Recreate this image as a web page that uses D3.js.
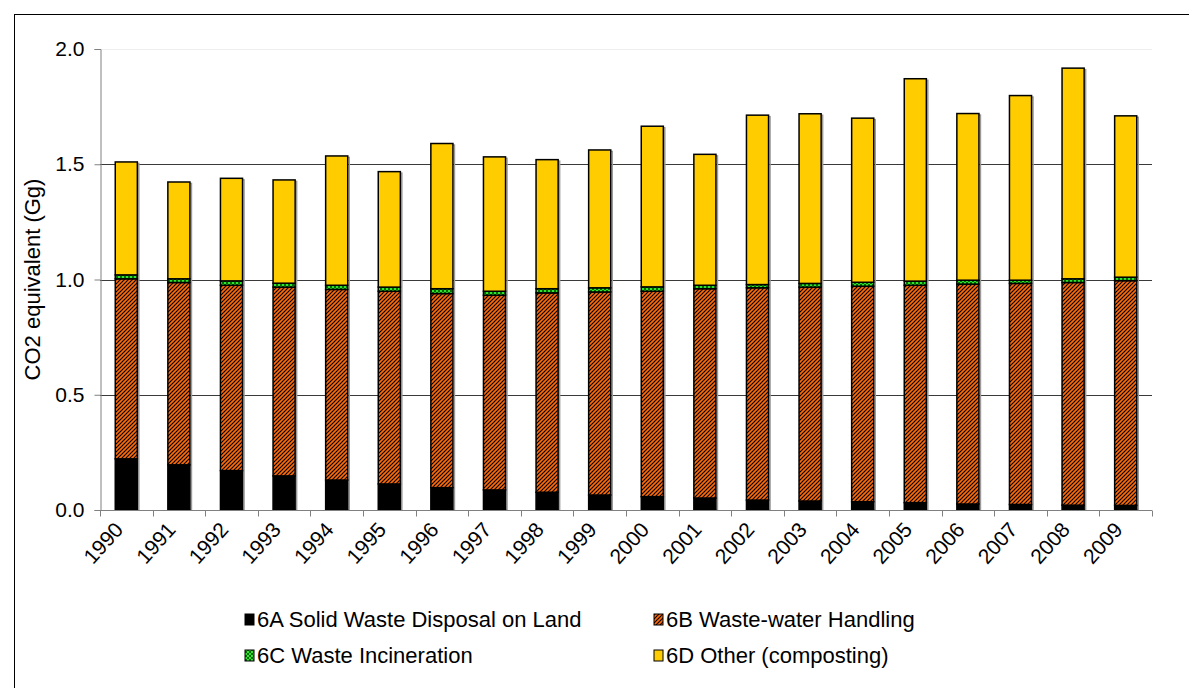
<!DOCTYPE html>
<html>
<head>
<meta charset="utf-8">
<script src="https://cdn.jsdelivr.net/npm/d3@7"></script>
<style>
  body{margin:0;background:#fff;}
  .chart text{font-family:"Liberation Sans",Arial,sans-serif;fill:#000;}
</style>
</head>
<body>
<div class="chart"></div>
<script>
var years=["1990","1991","1992","1993","1994","1995","1996","1997","1998","1999",
  "2000","2001","2002","2003","2004","2005","2006","2007","2008","2009"];

var solidWaste=[0.222,0.196,0.171,0.148,0.130,0.113,0.097,0.087,0.077,0.065,
  0.058,0.052,0.043,0.039,0.036,0.032,0.026,0.024,0.021,0.020];
var wasteWater=[0.781,0.791,0.804,0.819,0.827,0.836,0.842,0.845,0.865,0.881,
  0.891,0.908,0.921,0.928,0.935,0.943,0.954,0.959,0.966,0.975];
var incineration=[0.017,0.016,0.019,0.017,0.018,0.018,0.021,0.017,0.018,0.018,
  0.019,0.015,0.014,0.016,0.017,0.018,0.017,0.014,0.016,0.015];
var composting=[0.490,0.420,0.445,0.448,0.561,0.501,0.630,0.583,0.560,0.598,
  0.697,0.568,0.735,0.736,0.712,0.878,0.723,0.801,0.914,0.700];

var yTicks=[0,0.5,1,1.5,2];
var seriesNames=["6A Solid Waste Disposal on Land","6B Waste-water Handling",
  "6C Waste Incineration","6D Other (composting)"];

var keys=["a","b","c","d"];
var rows=years.map(function(y,i){
  return {year:y,a:solidWaste[i],b:wasteWater[i],c:incineration[i],d:composting[i]};
});

var W=1189, H=688;
var svg=d3.select(".chart").append("svg")
  .attr("width",W)
  .attr("height",H);

var defs=svg.append("defs");

// orange with black diagonal stripes
var hatch=defs.append("pattern")
  .attr("id","hatchB")
  .attr("patternUnits","userSpaceOnUse")
  .attr("width",4).attr("height",4);
hatch.append("rect").attr("width",4).attr("height",4).attr("fill","#ff6a0d");
hatch.append("path")
  .attr("d","M-1,1 L1,-1 M0,4 L4,0 M3,5 L5,3")
  .attr("stroke","#000").attr("stroke-width",1.15);

// green dotted
var dots=defs.append("pattern")
  .attr("id","dotsC")
  .attr("patternUnits","userSpaceOnUse")
  .attr("width",4).attr("height",4);
dots.append("rect").attr("width",4).attr("height",4).attr("fill","#2ee82e");
dots.append("rect").attr("x",0).attr("y",0).attr("width",2).attr("height",2).attr("fill","#0a6a0a");
dots.append("rect").attr("x",2).attr("y",2).attr("width",2).attr("height",2).attr("fill","#0a6a0a");

var fills={a:"#000",b:"url(#hatchB)",c:"url(#dotsC)",d:"#ffcc00"};

// outer frame
svg.append("rect")
  .attr("x",14.5).attr("y",14.5)
  .attr("width",W).attr("height",H)
  .attr("fill","none").attr("stroke","#000").attr("stroke-width",1);

var pLeft=100, pRight=1152, pTop=49, pBottom=510;

var x=d3.scaleBand()
  .domain(years)
  .range([pLeft,pRight])
  .paddingInner(0.58)
  .paddingOuter(0.29);

var y=d3.scaleLinear()
  .domain([0,2])
  .range([pBottom,pTop]);

// gridlines
svg.append("g").selectAll("line")
  .data(yTicks.filter(function(t){return t>0;}))
  .enter().append("line")
  .attr("x1",pLeft).attr("x2",pRight)
  .attr("y1",function(d){return Math.round(y(d))+0.5;})
  .attr("y2",function(d){return Math.round(y(d))+0.5;})
  .attr("stroke",function(d){return d==2 ? "#eeeeee" : "#3a3a3a";})
  .attr("stroke-width",1);

var stack=d3.stack().keys(keys);
var layers=stack(rows);

// light grey shadow behind each bar
svg.append("g").selectAll("rect")
  .data(rows)
  .enter().append("rect")
  .attr("x",function(d){return x(d.year)+1.5;})
  .attr("width",x.bandwidth())
  .attr("y",function(d){return y(d.a+d.b+d.c+d.d)+1.5;})
  .attr("height",function(d){return pBottom-y(d.a+d.b+d.c+d.d)-1.5;})
  .attr("fill","none")
  .attr("stroke","#9a9a9a")
  .attr("stroke-width",1.5);

var groups=svg.append("g").selectAll("g")
  .data(layers)
  .enter().append("g")
  .attr("fill",function(d){return fills[d.key];});

groups.selectAll("rect")
  .data(function(d){return d;})
  .enter().append("rect")
  .attr("x",function(d){return x(d.data.year);})
  .attr("width",x.bandwidth())
  .attr("y",function(d){return y(d[1]);})
  .attr("height",function(d){return y(d[0])-y(d[1]);})
  .attr("stroke","#000")
  .attr("stroke-width",1.5);

// y axis
var yAxis=d3.axisLeft(y)
  .tickValues(yTicks)
  .tickFormat(d3.format(".1f"))
  .tickSize(6)
  .tickPadding(10);

var gy=svg.append("g")
  .attr("transform","translate("+(pLeft+0.5)+",0)")
  .call(yAxis);
gy.select(".domain").attr("stroke","#808080");
gy.selectAll(".tick line").attr("stroke","#808080");
gy.selectAll("text")
  .attr("font-size","21px");

// x axis: ticks sit at band edges
var gx=svg.append("g")
  .attr("transform","translate(0,"+(pBottom+0.5)+")");
gx.append("line")
  .attr("x1",pLeft).attr("x2",pRight)
  .attr("stroke","#808080");
var step=x.step();
var edges=years.map(function(yr){return x(yr)-x.paddingOuter()*step;});
edges.push(pRight);
gx.selectAll(".edge")
  .data(edges)
  .enter().append("line")
  .attr("class","edge")
  .attr("x1",function(d){return Math.round(d)+0.5;})
  .attr("x2",function(d){return Math.round(d)+0.5;})
  .attr("y1",0).attr("y2",6)
  .attr("stroke","#808080");

gx.selectAll(".lbl")
  .data(years)
  .enter().append("text")
  .attr("class","lbl")
  .attr("text-anchor","end")
  .attr("font-size","21px")
  .attr("transform",function(d){
    return "translate("+(x(d)+x.bandwidth()/2-2)+",20) rotate(-48)";
  })
  .text(function(d){return d;});

// y title
svg.append("text")
  .attr("transform","translate(40,"+((pTop+pBottom)/2)+") rotate(-90)")
  .attr("text-anchor","middle")
  .attr("font-size","22px")
  .text("CO2 equivalent (Gg)");

// legend
var legendPos=[[245,619],[654,619],[245,655],[654,655]];
var legend=svg.append("g").selectAll("g")
  .data(keys)
  .enter().append("g")
  .attr("transform",function(d,i){return "translate("+legendPos[i][0]+","+legendPos[i][1]+")";});

legend.append("rect")
  .attr("x",0).attr("y",-5)
  .attr("width",9).attr("height",11)
  .attr("fill",function(d){return fills[d];})
  .attr("stroke","#000")
  .attr("stroke-width",1);

legend.append("text")
  .attr("x",12)
  .attr("dy","0.36em")
  .attr("font-size","22px")
  .text(function(d,i){return seriesNames[i];});
</script>
</body>
</html>
